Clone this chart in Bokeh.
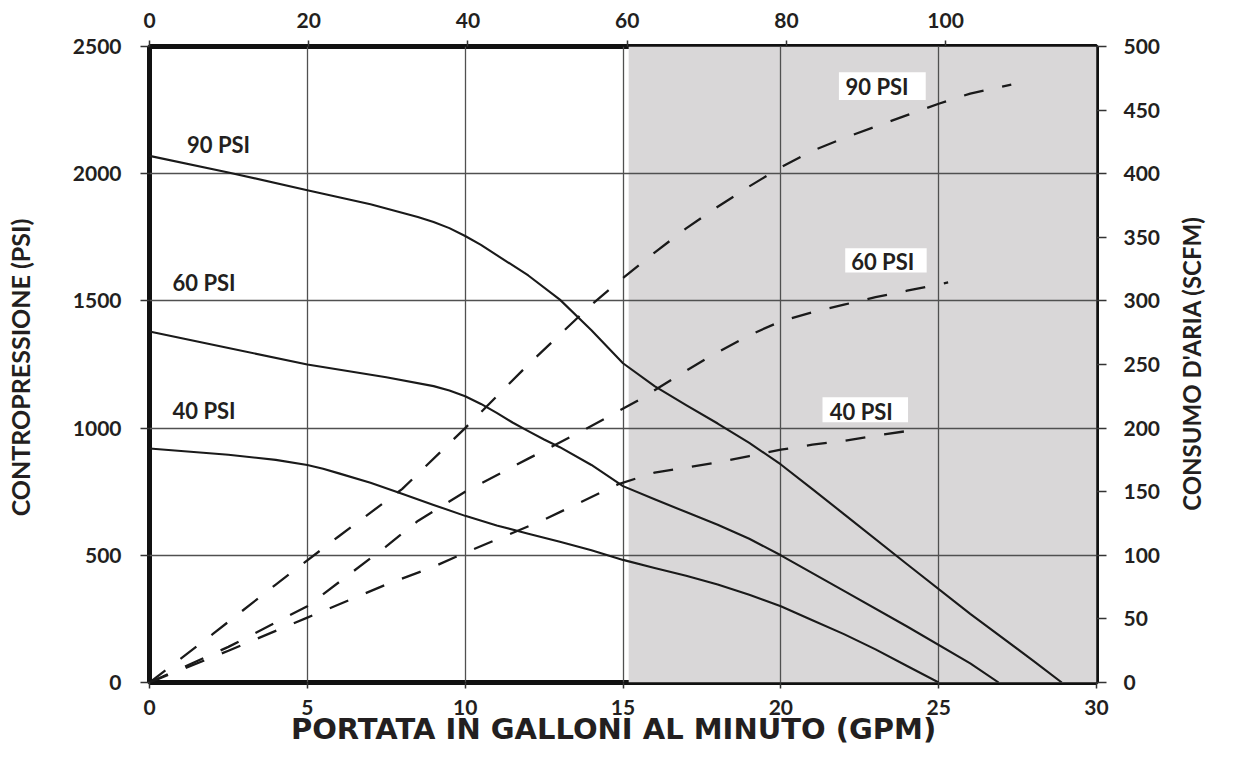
import math
from bokeh.plotting import figure
from bokeh.models import Range1d, LinearAxis, FixedTicker, Label, BoxAnnotation
from bokeh.embed import file_html
from bokeh.resources import INLINE

# ---------------- data ----------------
# back pressure (PSI) vs flow (GPM) - solid curves
gpm_90 = [0, 2.5, 5, 7, 8.5, 9, 9.5, 10, 10.5, 11, 12, 13, 14, 15, 16, 17, 18, 19, 20, 21, 22, 24, 26, 28, 28.9]
psi_90 = [2070, 2005, 1935, 1880, 1830, 1810, 1786, 1755, 1720, 1680, 1600, 1505, 1385, 1255, 1165, 1090, 1018, 942, 857, 760, 662, 465, 270, 85, 0]

gpm_60 = [0, 2.5, 5, 7.5, 9, 9.5, 10, 10.5, 11, 11.5, 12, 12.5, 13, 14, 15, 16, 17, 18, 19, 20, 22, 24, 26, 26.9]
psi_60 = [1380, 1315, 1250, 1200, 1165, 1148, 1125, 1095, 1060, 1022, 988, 955, 925, 855, 772, 720, 670, 620, 565, 500, 360, 220, 75, 0]

gpm_40 = [0, 2.5, 4, 5, 5.5, 6, 7, 8, 9, 10, 11, 12, 13, 14, 15, 16, 17, 18, 19, 20, 21, 22, 23, 24, 25]
psi_40 = [920, 895, 875, 855, 840, 822, 785, 742, 698, 655, 617, 585, 553, 520, 482, 450, 420, 385, 345, 300, 245, 190, 130, 65, 0]

# air consumption (SCFM) vs flow (GPM) - dashed curves
air_gpm_90 = [0, 2, 4, 6, 8, 10, 12, 14, 15, 16, 17, 18, 19, 20, 21, 22, 23, 24, 25, 26, 27.3]
air_scfm_90 = [0, 38, 77, 115, 152, 200, 250, 297, 318, 338, 357, 374, 390, 405, 418, 428, 437, 446, 455, 463, 470]

air_gpm_60 = [0, 2.5, 5, 7.5, 8.5, 10, 12, 13.8, 15.5, 16.6, 17.8, 19, 20, 21, 22, 23, 24, 25.3]
air_scfm_60 = [0, 28, 60, 107, 127, 150, 176, 199, 222, 239, 257, 273, 284, 291, 297, 303, 308, 314.5]

air_gpm_40 = [0, 2.5, 5, 7.5, 9, 10, 12.5, 14.86, 16, 17, 18, 19, 20, 21, 22, 23, 24.35]
air_scfm_40 = [0, 25, 51, 77, 91, 102, 128, 156, 165, 169, 173, 178, 183, 187, 190, 194, 199]

x_ticks = [0, 5, 10, 15, 20, 25, 30]
y_ticks = [0, 500, 1000, 1500, 2000, 2500]
top_ticks = [0, 20, 40, 60, 80, 100]
right_ticks = [0, 50, 100, 150, 200, 250, 300, 350, 400, 450, 500]
grid_x = [5, 10, 15, 20, 25]
grid_y = [500, 1000, 1500, 2000]

shade_start = 15.18   # grey zone (GPM)

left_labels = ["90 PSI", "60 PSI", "40 PSI"]
left_label_x = [1.19, 0.73, 0.73]
left_label_y = [2113, 1572, 1068]

right_labels = ["90 PSI", "60 PSI", "40 PSI"]
right_label_x = [22.05, 22.23, 21.55]
right_label_y = [2342, 1654, 1067]
right_box_l = [21.84, 22.04, 21.32]
right_box_r = [24.59, 24.62, 24.03]
right_box_t = [2399, 1707, 1121]
right_box_b = [2290, 1612, 1023]

x_title = "PORTATA IN GALLONI AL MINUTO (GPM)"
y_title = "CONTROPRESSIONE  (PSI)"
y2_title = "CONSUMO D'ARIA (SCFM)"
x_title_pos = 14.7      # GPM under which the x title is centred
y2_title_start = 135    # SCFM where the right title starts

TXT = "#231f20"
FONT = "Lato"

# ---------------- figure ----------------
p = figure(width=1223, height=751, output_backend="svg", toolbar_location=None,
           x_range=Range1d(0, 30), y_range=Range1d(0, 2500),
           min_border_left=149, min_border_right=121, min_border_top=46, min_border_bottom=69)
p.background_fill_color = "white"
p.border_fill_color = "white"
p.outline_line_color = "#111111"
p.outline_line_width = 5

p.extra_x_ranges = {"top": Range1d(0, 118.95)}
p.extra_y_ranges = {"scfm": Range1d(0, 500)}


def style_axis(ax, tick_out, standoff, size="21px", font=FONT):
    ax.axis_line_color = None
    ax.major_tick_line_color = "#333333"
    ax.major_tick_line_width = 1.5
    ax.major_tick_in = 0
    ax.major_tick_out = tick_out
    ax.minor_tick_line_color = None
    ax.minor_tick_in = 0
    ax.minor_tick_out = 0
    ax.major_label_text_font = font
    ax.major_label_text_font_style = "bold"
    ax.major_label_text_font_size = size
    ax.major_label_text_color = TXT
    ax.major_label_standoff = standoff


p.xaxis.ticker = FixedTicker(ticks=x_ticks)
p.yaxis.ticker = FixedTicker(ticks=y_ticks)
style_axis(p.xaxis[0], 6, 11)
style_axis(p.yaxis[0], 9, 19)

# left title as the left axis label
ya = p.yaxis[0]
ya.axis_label = y_title
ya.axis_label_standoff = 35
ya.axis_label_text_font = FONT
ya.axis_label_text_font_style = "bold"
ya.axis_label_text_font_size = "25px"
ya.axis_label_text_color = TXT

top_ax = LinearAxis(x_range_name="top", ticker=FixedTicker(ticks=top_ticks))
style_axis(top_ax, 6, 13)
p.add_layout(top_ax, "above")

right_ax = LinearAxis(y_range_name="scfm", ticker=FixedTicker(ticks=right_ticks))
style_axis(right_ax, 10, 17)
p.add_layout(right_ax, "right")

# right title: an extra right axis whose single (rotated) label is the title
right_title_ax = LinearAxis(y_range_name="scfm", ticker=FixedTicker(ticks=[y2_title_start]),
                            major_label_overrides={y2_title_start: y2_title})
style_axis(right_title_ax, 0, 28, "24px")
right_title_ax.major_tick_line_color = None
right_title_ax.major_label_orientation = math.pi / 2
p.add_layout(right_title_ax, "right")

# bottom title: a second bottom axis whose single label is the title
bottom_title_ax = LinearAxis(ticker=FixedTicker(ticks=[x_title_pos]),
                             major_label_overrides={x_title_pos: x_title})
style_axis(bottom_title_ax, 0, -6, "29px", "DejaVu Sans")
bottom_title_ax.major_tick_line_color = None
p.add_layout(bottom_title_ax, "below")

p.xgrid.ticker = FixedTicker(ticks=grid_x)
p.ygrid.ticker = FixedTicker(ticks=grid_y)
for g in (p.xgrid[0], p.ygrid[0]):
    g.grid_line_color = "#505050"
    g.grid_line_width = 1.3

# grey zone under the grid
p.quad(left=[shade_start], right=[30], bottom=[0], top=[2500],
       fill_color="#d9d7d8", line_color=None, level="image")

# solid curves
for gx, gy in ((gpm_90, psi_90), (gpm_60, psi_60), (gpm_40, psi_40)):
    p.line(gx, gy, line_color="#1a1a1a", line_width=2.1, line_join="round")

# dashed curves
for gx, gy in ((air_gpm_90, air_scfm_90), (air_gpm_60, air_scfm_60), (air_gpm_40, air_scfm_40)):
    p.line(gx, gy, y_range_name="scfm", line_color="#1a1a1a", line_width=2.3, line_dash="20 19")

# curve labels
for t, x, y in zip(left_labels, left_label_x, left_label_y):
    p.add_layout(Label(x=x, y=y, text=t, text_font=FONT, text_font_style="bold",
                       text_font_size="22px", text_color=TXT, text_baseline="alphabetic"))

for t, x, y, l, r, tp, b in zip(right_labels, right_label_x, right_label_y,
                                right_box_l, right_box_r, right_box_t, right_box_b):
    p.add_layout(BoxAnnotation(left=l, right=r, top=tp, bottom=b, fill_color="white",
                               fill_alpha=1.0, line_color=None))
    p.add_layout(Label(x=x, y=y, text=t, text_font=FONT, text_font_style="bold",
                       text_font_size="22px", text_color=TXT, text_baseline="alphabetic"))

open("out.html", "w").write(file_html(p, INLINE))
